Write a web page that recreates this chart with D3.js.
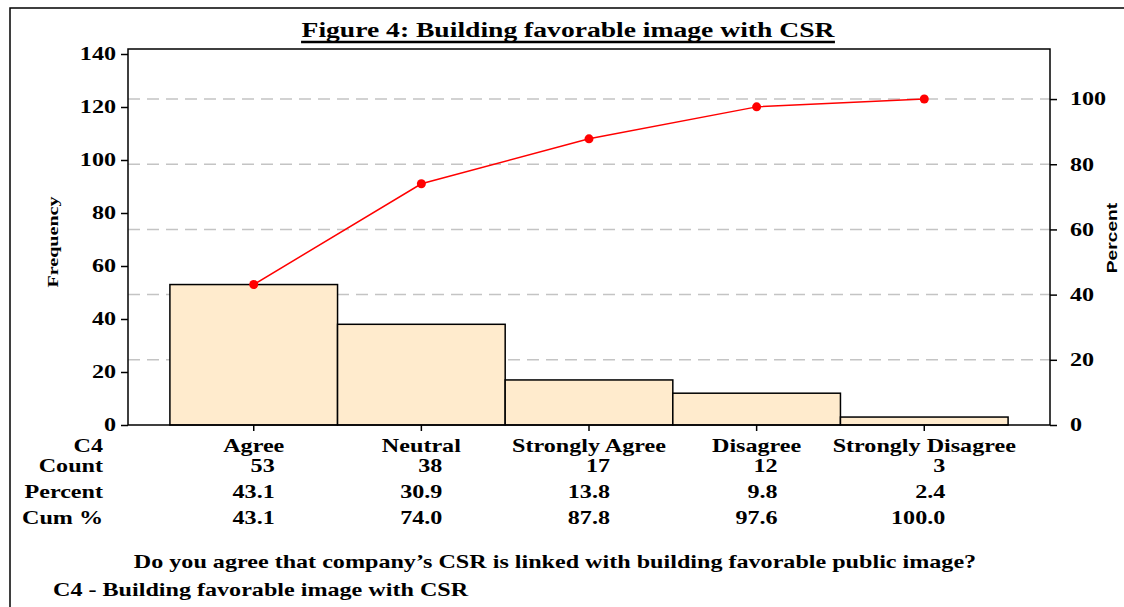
<!DOCTYPE html>
<html>
<head>
<meta charset="utf-8">
<script src="https://cdn.jsdelivr.net/npm/d3@7"></script>
<style>
  body { margin: 0; background: #fff; }
  text { font-family: "Liberation Serif", "Times New Roman", serif; font-weight: bold; fill: #000; }
</style>
</head>
<body>
<div id="container"></div>
<script>
// data
let categories = ["Agree", "Neutral", "Strongly Agree", "Disagree", "Strongly Disagree"];
let counts = [53, 38, 17, 12, 3];
let percents = ["43.1", "30.9", "13.8", "9.8", "2.4"];
let cumPercents = [43.1, 74.0, 87.8, 97.6, 100.0];
let cumLabels = ["43.1", "74.0", "87.8", "97.6", "100.0"];
let freqTicks = [0, 20, 40, 60, 80, 100, 120, 140];
let pctTicks = [0, 20, 40, 60, 80, 100];

let w = 1124;
let h = 607;
let plotLeft = 128, plotRight = 1050, plotTop = 49, plotBottom = 425;
// the original text is drawn horizontally stretched
let k = 1.34;

let viz = d3.select("#container")
  .append("svg")
    .attr("width", w)
    .attr("height", h);

// widen text glyphs around their anchor point
function stretch(sel, s) {
  sel.each(function() {
    let t = d3.select(this);
    let x = +t.attr("x") || 0, y = +t.attr("y") || 0;
    t.attr("x", 0).attr("y", 0)
      .attr("transform", `translate(${x},${y}) scale(${s},1)`);
  });
}

// outer frame (open at right and bottom)
viz.append("rect")
  .attr("x", 10).attr("y", 8)
  .attr("width", w + 20).attr("height", h + 20)
  .attr("fill", "none").attr("stroke", "#000").attr("stroke-width", 1.5);

let total = d3.sum(counts);
let xScale = d3.scaleBand().domain(categories).range([plotLeft, plotRight])
  .paddingInner(0).paddingOuter(0.25);
let yScale = d3.scaleLinear().domain([0, 140]).range([plotBottom, plotBottom - 371]);
let pScale = d3.scaleLinear().domain([0, 100]).range([plotBottom, yScale(total)]);

// dashed grid from percent axis
viz.append("g").selectAll("line").data(pctTicks.filter(d => d > 0)).enter()
  .append("line")
    .attr("x1", plotLeft).attr("x2", plotRight)
    .attr("y1", d => pScale(d)).attr("y2", d => pScale(d))
    .attr("stroke", "#c4c4c4").attr("stroke-width", 1.5)
    .attr("stroke-dasharray", "12,7");

// bars
viz.append("g").selectAll("rect").data(counts).enter()
  .append("rect")
    .attr("x", (d, i) => xScale(categories[i]))
    .attr("y", d => yScale(d))
    .attr("width", xScale.bandwidth())
    .attr("height", d => plotBottom - yScale(d))
    .attr("fill", "#ffebcd")
    .attr("stroke", "#000").attr("stroke-width", 1.5);

// plot frame
viz.append("path")
  .attr("d", `M${plotLeft},${plotBottom} V${plotTop} H${plotRight} V${plotBottom} Z`)
  .attr("fill", "none").attr("stroke", "#000").attr("stroke-width", 1.5);

// left axis
let yAxis = d3.axisLeft(yScale).tickValues(freqTicks).tickSize(7).tickPadding(5);
let yAxisGroup = viz.append("g").attr("transform", `translate(${plotLeft},0)`).call(yAxis);
yAxisGroup.select(".domain").remove();
yAxisGroup.selectAll("line").attr("stroke-width", 1.5);
yAxisGroup.selectAll("text").style("font-size", "18px").style("font-family", "Liberation Serif").style("font-weight", "bold");
stretch(yAxisGroup.selectAll("text"), k);

// right axis
let pAxis = d3.axisRight(pScale).tickValues(pctTicks).tickSize(7).tickPadding(13);
let pAxisGroup = viz.append("g").attr("transform", `translate(${plotRight},0)`).call(pAxis);
pAxisGroup.select(".domain").remove();
pAxisGroup.selectAll("line").attr("stroke-width", 1.5);
pAxisGroup.selectAll("text").style("font-size", "18px").style("font-family", "Liberation Serif").style("font-weight", "bold");
stretch(pAxisGroup.selectAll("text"), k);

// category ticks under axis
viz.append("g").selectAll("line").data(categories).enter()
  .append("line")
    .attr("x1", d => xScale(d) + xScale.bandwidth() / 2)
    .attr("x2", d => xScale(d) + xScale.bandwidth() / 2)
    .attr("y1", plotBottom).attr("y2", plotBottom + 6)
    .attr("stroke", "#000").attr("stroke-width", 1.5);

// cumulative line
let lineMaker = d3.line()
  .x((d, i) => xScale(categories[i]) + xScale.bandwidth() / 2)
  .y(d => pScale(d));
viz.append("path").datum(cumPercents)
  .attr("d", lineMaker)
  .attr("fill", "none").attr("stroke", "#ff0000").attr("stroke-width", 1.5);
viz.append("g").selectAll("circle").data(cumPercents).enter()
  .append("circle")
    .attr("cx", (d, i) => xScale(categories[i]) + xScale.bandwidth() / 2)
    .attr("cy", d => pScale(d))
    .attr("r", 4.5)
    .attr("fill", "#ff0000");

// title
let titleK = 1.38;
let title = viz.append("text")
  .attr("x", 568).attr("y", 37)
  .attr("text-anchor", "middle")
  .style("font-size", "20px")
  .text("Figure 4: Building favorable image with CSR");
let tw = title.node().getBBox().width * titleK;
stretch(title, titleK);
viz.append("line")
  .attr("x1", 568 - tw / 2).attr("x2", 568 + tw / 2)
  .attr("y1", 42).attr("y2", 42)
  .attr("stroke", "#000").attr("stroke-width", 2.5);

// axis titles
viz.append("text")
  .attr("transform", `translate(58,242) rotate(-90) scale(${k},1)`)
  .attr("text-anchor", "middle")
  .style("font-size", "15px")
  .text("Frequency");
viz.append("text")
  .attr("transform", `translate(1117,238) rotate(-90) scale(1.28,1)`)
  .attr("text-anchor", "middle")
  .style("font-family", "Liberation Sans, Arial, sans-serif")
  .style("font-size", "15px")
  .text("Percent");

// table under chart
let rowLabels = ["C4", "Count", "Percent", "Cum %"];
let rowY = [452, 472, 498, 524];
let labels = viz.append("g").selectAll("text").data(rowLabels).enter()
  .append("text")
    .attr("x", 103).attr("y", (d, i) => rowY[i])
    .attr("text-anchor", "end")
    .style("font-size", "18px")
    .text(d => d);
stretch(labels, k);

let catLabels = viz.append("g").selectAll("text").data(categories).enter()
  .append("text")
    .attr("x", d => xScale(d) + xScale.bandwidth() / 2)
    .attr("y", rowY[0])
    .attr("text-anchor", "middle")
    .style("font-size", "18px")
    .text(d => d);
stretch(catLabels, k);

let tableRows = [counts.map(String), percents, cumLabels];
tableRows.forEach(function(row, r) {
  let cells = viz.append("g").selectAll("text").data(row).enter()
    .append("text")
      .attr("x", (d, i) => xScale(categories[i]) + xScale.bandwidth() / 2 + 21)
      .attr("y", rowY[r + 1])
      .attr("text-anchor", "end")
      .style("font-size", "18px")
      .text(d => d);
  stretch(cells, k);
});

// footer
let q = viz.append("text")
  .attr("x", 555).attr("y", 568)
  .attr("text-anchor", "middle")
  .style("font-size", "18px")
  .text("Do you agree that company\u2019s CSR is linked with building favorable public image?");
stretch(q, k);
let foot = viz.append("text")
  .attr("x", 53).attr("y", 596)
  .style("font-size", "18px")
  .text("C4 - Building favorable image with CSR");
stretch(foot, k);
</script>
</body>
</html>
